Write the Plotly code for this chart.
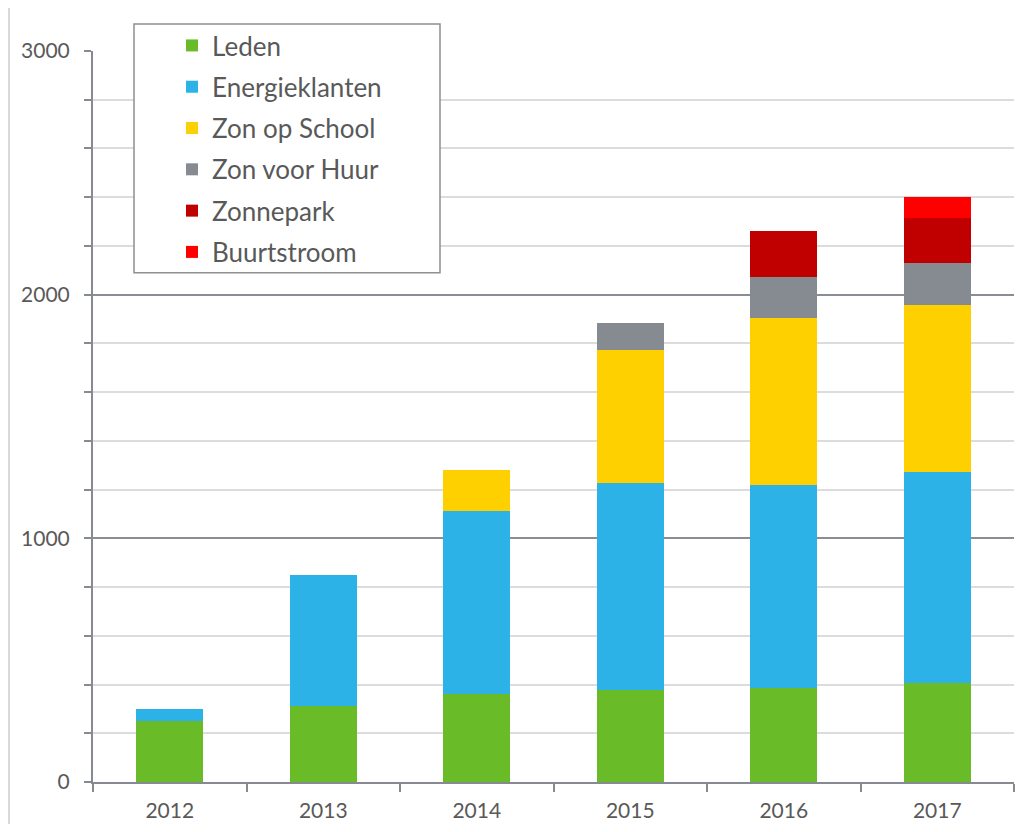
import plotly.graph_objects as go

years = ["2012", "2013", "2014", "2015", "2016", "2017"]
leden = [252, 310, 363, 376, 384, 408]
energieklanten = [49, 540, 750, 853, 836, 865]
zon_op_school = [0, 0, 168, 545, 685, 686]
zon_voor_huur = [0, 0, 0, 111, 169, 172]
zonnepark = [0, 0, 0, 0, 188, 185]
buurtstroom = [0, 0, 0, 0, 0, 86]

series = [
    ("Leden", leden, "#69bb28"),
    ("Energieklanten", energieklanten, "#2db2e8"),
    ("Zon op School", zon_op_school, "#ffd000"),
    ("Zon voor Huur", zon_voor_huur, "#868a91"),
    ("Zonnepark", zonnepark, "#c00000"),
    ("Buurtstroom", buurtstroom, "#ff0000"),
]

FONT = "Lato"
TXT = "#595959"
AX = "#878b91"

# page body has an 8px margin; figure starts at (8, 8)
OFF = 8
PL, PR, PT, PB = 93, 1014, 51, 782.5
W, H = 1010, 816
PW, PH = PR - PL, PB - PT

def px(x):
    return (x - PL) / PW

def py(y):
    return (PB - y) / PH

fig = go.Figure()
for name, vals, col in series:
    fig.add_trace(go.Bar(
        x=years, y=vals, name=name, legendgroup=name,
        marker=dict(color=col, line=dict(width=0)),
    ))

fig.update_layout(
    width=W, height=H,
    margin=dict(l=PL - OFF, r=W - (PR - OFF), t=PT - OFF, b=H - (PB - OFF), autoexpand=False),
    paper_bgcolor="white", plot_bgcolor="white",
    barmode="stack", bargap=0.563,
    font=dict(family=FONT, color=TXT),
    showlegend=True,
    legend=dict(
        x=px(172), y=py(22), xanchor="left", yanchor="top",
        traceorder="grouped", tracegroupgap=4.5,
        font=dict(family=FONT, size=26, color=TXT),
        bgcolor="rgba(0,0,0,0)", borderwidth=0,
    ),
    shapes=[
        dict(type="rect", xref="paper", yref="paper",
             x0=px(134), x1=px(440), y0=py(273), y1=py(24),
             line=dict(color="#8c8f94", width=1.5), fillcolor="white", layer="above"),
        dict(type="line", xref="paper", yref="paper",
             x0=px(9), x1=px(9), y0=py(832), y1=py(6),
             line=dict(color="#d9d9d9", width=2)),
    ],
)

fig.update_xaxes(
    type="category", showgrid=False, showline=True, linecolor=AX, linewidth=2,
    ticks="outside", tickson="boundaries", ticklen=8, tickwidth=2, tickcolor=AX,
    tickfont=dict(family=FONT, size=21, color=TXT),
    zeroline=False, ticklabelstandoff=9,
)
fig.update_yaxes(
    range=[0, 3000], tick0=0, dtick=1000,
    showline=True, linecolor=AX, linewidth=2,
    ticks="outside", ticklen=7, tickwidth=2, tickcolor=AX,
    showgrid=True, gridcolor="#8a8e94", gridwidth=2,
    minor=dict(dtick=200, showgrid=True, gridcolor="#dcdcdc", gridwidth=2,
               ticks="outside", ticklen=7, tickwidth=2, tickcolor=AX),
    tickfont=dict(family=FONT, size=21, color=TXT),
    zeroline=False, ticklabelstandoff=10,
)

fig.write_html("out.html")
